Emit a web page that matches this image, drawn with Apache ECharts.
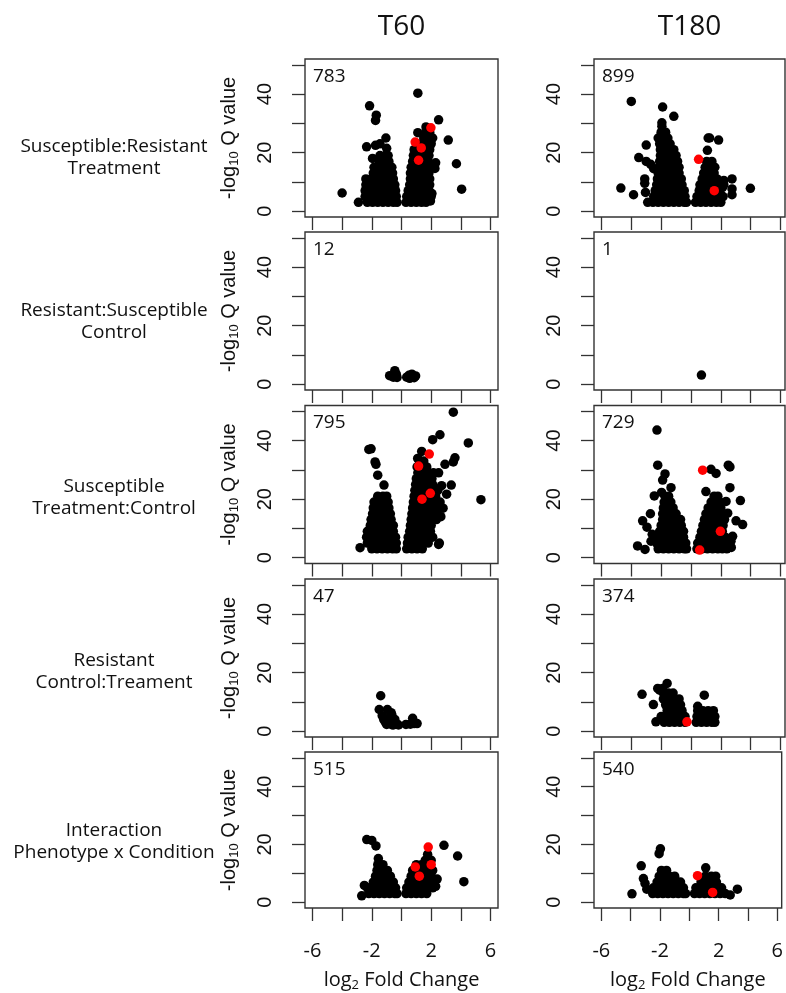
<!DOCTYPE html>
<html>
<head>
<meta charset="utf-8">
<script src="https://cdn.jsdelivr.net/npm/echarts@6/dist/echarts.min.js"></script>
<style>
  html, body { margin: 0; padding: 0; background: #fff; }
  #chart { width: 786px; height: 993px; }
</style>
</head>
<body>
<div id="chart"></div>
<script>
// axis ticks and labels
const xTicks = [-6, -4, -2, 0, 2, 4, 6];
const xTickLabels = [-6, -2, 2, 6];
const yTicks = [0, 10, 20, 30, 40, 50];
const yTickLabels = [0, 20, 40];

const columnTitles = ["T60", "T180"];
const rowLabels = [
  "Susceptible:Resistant\nTreatment",
  "Resistant:Susceptible\nControl",
  "Susceptible\nTreatment:Control",
  "Resistant\nControl:Treament",
  "Interaction\nPhenotype x Condition"
];
// number of DE genes per panel [T60, T180]
const deCounts = [[783, 899], [12, 1], [795, 729], [47, 374], [515, 540]];

// [log2 fold change, -log10 Q] (dense clouds approximated)
const t60SusResTrt = [
  [-4,6.2],[-2.9,3],[-2.15,36],[-1.7,32.8],[-1.75,31],[-1.05,25],[-2.35,22],[-1.75,22.5],[-1.45,23],[-1.0,21.5],[-1.95,18],
  [1.1,40.3],[2.5,31.2],[3.15,24.3],[3.7,16.2],[4.05,7.5],[2.3,16.5],[2.25,14.6],[1.1,26.8],[1.65,28.8],[2.05,6],[1.95,3.5],
  [-2.3,3],[-1.95,3],[-1.6,3],[-1.25,3],[-0.9,3],[-0.55,3],[-0.3,3],
  [-2.45,5],[-2.1,5],[-1.75,5],[-1.4,5],[-1.05,5],[-0.7,5],[-0.35,5],
  [-2.45,7],[-2.1,7],[-1.75,7],[-1.4,7],[-1.05,7],[-0.7,7],[-0.4,7],
  [-2.4,9],[-2.05,9],[-1.7,9],[-1.35,9],[-1.0,9],[-0.65,9],[-0.45,9],
  [-2.4,11],[-2.05,11],[-1.7,11],[-1.35,11],[-1.0,11],[-0.65,11],[-0.55,11],
  [-1.9,13],[-1.55,13],[-1.2,13],[-0.85,13],[-0.6,13],
  [-1.85,15],[-1.5,15],[-1.15,15],[-0.8,15],[-0.65,15],
  [-1.5,17],[-1.15,17],[-0.85,17],
  [-1.45,19],[-1.1,19],[-0.9,19],
  [0.3,3],[0.65,3],[1.0,3],[1.35,3],[1.65,3],
  [0.35,5],[0.7,5],[1.05,5],[1.4,5],[1.75,5],[2.0,5],
  [0.45,7],[0.8,7],[1.15,7],[1.5,7],[1.85,7],
  [0.55,9],[0.9,9],[1.25,9],[1.6,9],[1.9,9],
  [0.6,11],[0.95,11],[1.3,11],[1.65,11],[1.9,11],
  [0.6,13],[0.95,13],[1.3,13],[1.65,13],[1.85,13],
  [0.65,15],[1.0,15],[1.35,15],[1.7,15],[1.85,15],
  [0.75,17],[1.1,17],[1.45,17],[1.8,17],
  [0.8,19],[1.15,19],[1.5,19],[1.85,19],
  [0.85,21],[1.2,21],[1.55,21],[1.9,21],
  [1.0,23],[1.35,23],[1.7,23],[2.0,23],
  [1.5,25],[1.85,25],[2.1,25],
  [1.65,27],[1.9,27]
];
const t60SusResTrtRed = [[1.98,28.5],[0.92,23.6],[1.33,21.6],[1.15,17.4]];

const t180SusResTrt = [
  [-4.0,37.5],[-4.7,7.9],[-3.85,5.6],[-1.9,35.6],[-1.15,32.4],[-1.95,30.2],[-3.0,22.6],[-3.5,18.3],[-3.0,17],[-3.1,11],
  [-3.1,9.5],[-3.05,6.4],[-2.7,16],[-2.5,14.5],[3.98,7.8],[2.75,11],[2.75,7.6],[2.75,5.6],[1.15,25],[1.25,25],[1.85,24.3],
  [1.1,20.8],[2.2,10.5],[2.1,8],
  [-2.9,3],[-2.55,3],[-2.2,3],[-1.85,3],[-1.5,3],[-1.15,3],[-0.8,3],[-0.45,3],[-0.3,3],
  [-2.5,5],[-2.15,5],[-1.8,5],[-1.45,5],[-1.1,5],[-0.75,5],[-0.4,5],
  [-2.4,7],[-2.05,7],[-1.7,7],[-1.35,7],[-1.0,7],[-0.65,7],[-0.45,7],
  [-2.3,9],[-1.95,9],[-1.6,9],[-1.25,9],[-0.9,9],[-0.6,9],
  [-2.25,11],[-1.9,11],[-1.55,11],[-1.2,11],[-0.85,11],[-0.65,11],
  [-2.2,13],[-1.85,13],[-1.5,13],[-1.15,13],[-0.8,13],
  [-2.15,15],[-1.8,15],[-1.45,15],[-1.1,15],[-0.8,15],
  [-2.1,17],[-1.75,17],[-1.4,17],[-1.05,17],[-0.9,17],
  [-2.05,19],[-1.7,19],[-1.35,19],[-1.0,19],
  [-2.05,21],[-1.7,21],[-1.35,21],[-1.15,21],
  [-2.1,23],[-1.75,23],[-1.4,23],
  [-2.2,25],[-1.85,25],[-1.55,25],
  [-2.0,27],[-1.7,27],
  [-1.95,29],
  [0.3,3],[0.65,3],[1.0,3],[1.35,3],[1.7,3],[2.0,3],
  [0.4,5],[0.75,5],[1.1,5],[1.45,5],[1.8,5],[2.15,5],
  [0.55,7],[0.9,7],[1.25,7],[1.6,7],[1.9,7],
  [0.6,9],[0.95,9],[1.3,9],[1.65,9],[2.2,9],
  [0.75,11],[1.1,11],[1.45,11],[1.75,11],
  [0.85,13],[1.2,13],[1.55,13],
  [0.95,15],[1.3,15],[1.6,15],
  [1.05,17],[1.4,17]
];
const t180SusResTrtRed = [[0.51,17.7],[1.56,7.0]];

const t60ResSusCtl = [
  [-0.45,4.6],[-0.8,2.9],[-0.55,2.4],[-0.3,2.3],[-0.5,3.3],[-0.35,3.4],
  [0.35,2.4],[0.55,2.0],[0.7,3.4],[0.95,2.8],[0.85,2.2],[0.5,3.0]
];
const t180ResSusCtl = [[0.7,3.1]];

const t60SusTrtCtl = [
  [3.49,49.7],[4.5,39.2],[5.35,19.8],[2.59,42],[2.1,40.3],[3.6,34.1],[3.49,32.7],[2.93,31.9],[3.35,24.8],[3.04,21.7],[2.7,24.6],
  [-2.2,37],[-2.05,37.2],[-1.78,32.7],[-1.72,31.9],[-1.6,28.2],[-1.18,24.8],[-2.79,3.4],[1.36,36.3],[1.09,33.9],[2.8,16.9],
  [2.65,14],[2.5,4.5],
  [-2.0,3],[-1.65,3],[-1.3,3],[-0.95,3],[-0.6,3],[-0.35,3],
  [-2.3,5],[-1.95,5],[-1.6,5],[-1.25,5],[-0.9,5],[-0.55,5],[-0.35,5],
  [-2.35,7],[-2.0,7],[-1.65,7],[-1.3,7],[-0.95,7],[-0.6,7],[-0.4,7],
  [-2.3,9],[-1.95,9],[-1.6,9],[-1.25,9],[-0.9,9],[-0.55,9],
  [-2.1,11],[-1.75,11],[-1.4,11],[-1.05,11],[-0.7,11],[-0.55,11],
  [-2.05,13],[-1.7,13],[-1.35,13],[-1.0,13],[-0.7,13],
  [-1.95,15],[-1.6,15],[-1.25,15],[-0.9,15],[-0.75,15],
  [-1.9,17],[-1.55,17],[-1.2,17],[-0.85,17],
  [-1.85,19],[-1.5,19],[-1.15,19],[-0.9,19],
  [-1.6,21],[-1.25,21],[-1.0,21],
  [0.35,3],[0.7,3],[1.05,3],[1.4,3],
  [0.4,5],[0.75,5],[1.1,5],[1.45,5],[1.8,5],[2.55,5],
  [0.45,7],[0.8,7],[1.15,7],[1.5,7],[1.85,7],[2.1,7],
  [0.55,9],[0.9,9],[1.25,9],[1.6,9],[1.95,9],
  [0.6,11],[0.95,11],[1.3,11],[1.65,11],[2.0,11],
  [0.65,13],[1.0,13],[1.35,13],[1.7,13],[2.05,13],[2.35,13],
  [0.7,15],[1.05,15],[1.4,15],[1.75,15],[2.1,15],[2.4,15],
  [0.75,17],[1.1,17],[1.45,17],[1.8,17],[2.15,17],[2.5,17],
  [0.8,19],[1.15,19],[1.5,19],[1.85,19],[2.2,19],[2.6,19],
  [0.85,21],[1.2,21],[1.55,21],[1.9,21],[2.3,21],
  [0.9,23],[1.25,23],[1.6,23],[2.0,23],[2.45,23],
  [0.95,25],[1.3,25],[1.65,25],[2.1,25],
  [1.0,27],[1.35,27],[1.7,27],[2.05,27],
  [1.1,29],[1.45,29],[1.8,29],[2.15,29],[2.5,29],
  [1.05,31],[1.4,31],[1.7,31],
  [1.2,33],[1.5,33]
];
const t60SusTrtCtlRed = [[1.87,35.4],[1.15,31.3],[1.94,22],[1.38,20]];

const t180SusTrtCtl = [
  [-2.28,43.6],[-2.23,31.6],[-1.74,28.6],[-1.9,26.5],[-1.34,23.9],[-2.46,21.1],[-1.97,22.3],[-3.24,12.6],[-2.95,10.4],
  [-2.72,15],[-3.58,4],[-3.08,2.8],[-2.68,5.6],[-2.6,8],[1.68,28.8],[1.34,30.2],[2.5,31.6],[2.61,31],[2.61,23.9],
  [3.31,19.5],[1.0,22.6],[3.02,12.6],[3.46,11.3],[2.79,7.3],[2.68,5.6],[2.35,19.2],[2.46,15.2],[2.7,3.5],
  [-2.2,3],[-1.85,3],[-1.5,3],[-1.15,3],[-0.8,3],[-0.45,3],[-0.3,3],
  [-2.3,5],[-1.95,5],[-1.6,5],[-1.25,5],[-0.9,5],[-0.55,5],[-0.35,5],
  [-2.2,7],[-1.85,7],[-1.5,7],[-1.15,7],[-0.8,7],[-0.5,7],
  [-2.1,9],[-1.75,9],[-1.4,9],[-1.05,9],[-0.7,9],[-0.5,9],
  [-2.0,11],[-1.65,11],[-1.3,11],[-0.95,11],[-0.65,11],
  [-1.9,13],[-1.55,13],[-1.2,13],[-0.85,13],[-0.7,13],
  [-1.9,15],[-1.55,15],[-1.2,15],[-1.0,15],
  [-1.85,17],[-1.5,17],[-1.2,17],
  [-1.8,19],[-1.45,19],[-1.35,19],
  [-1.75,21],[-1.5,21],
  [0.4,3],[0.75,3],[1.1,3],[1.45,3],[1.8,3],[2.1,3],[2.4,3],
  [0.45,5],[0.8,5],[1.15,5],[1.5,5],[1.85,5],[2.2,5],[2.5,5],
  [0.6,7],[0.95,7],[1.3,7],[1.65,7],[2.0,7],[2.3,7],
  [0.7,9],[1.05,9],[1.4,9],[1.75,9],[2.1,9],
  [0.8,11],[1.15,11],[1.5,11],[1.85,11],[2.15,11],
  [0.9,13],[1.25,13],[1.6,13],[1.95,13],[2.25,13],
  [1.0,15],[1.35,15],[1.7,15],[2.0,15],
  [1.15,17],[1.5,17],[1.85,17],[2.0,17],
  [1.35,19],[1.7,19],[1.95,19],
  [1.55,21],[1.8,21]
];
const t180SusTrtCtlRed = [[0.78,29.9],[1.97,9],[0.58,2.6]];

const t60ResCtlTrt = [
  [-1.4,12.1],[-1.5,7.4],[-0.95,7.4],[-1.3,5.3],[-0.65,5.6],[-0.85,4.5],[-1.1,3.2],[-0.8,3.0],[-0.5,3.0],[-0.3,2.4],
  [-1.0,2.3],[-0.65,2.2],[-0.45,4.0],[0.3,2.3],[0.6,2.4],[0.85,2.6],[0.75,4.4],[1.05,2.6],[-0.55,2.1],[-0.2,2.1],
  [-1.2,4.0],[-0.7,6.3]
];

const t180ResCtlTrt = [
  [-3.28,12.6],[-2.23,14.6],[-1.6,16.3],[0.89,12.3],[-2.52,9.1],[-2.35,3.2],[-1.9,14.6],
  [-1.8,3],[-1.45,3],[-1.1,3],[-0.75,3],[-0.4,3],
  [-2.0,5],[-1.7,5],[-1.35,5],[-1.0,5],[-0.65,5],[-0.4,5],
  [-1.6,7],[-1.25,7],[-0.9,7],[-0.6,7],
  [-1.7,9],[-1.35,9],[-1.0,9],[-0.7,9],
  [-1.85,11],[-1.5,11],[-1.15,11],[-0.8,11],
  [-1.85,13],[-1.5,13],[-1.2,13],
  [-2.1,14],
  [0.35,3],[0.7,3],[1.05,3],[1.4,3],[1.6,3],
  [0.4,5],[0.75,5],[1.1,5],[1.45,5],[1.6,5],
  [0.45,7],[0.8,7],[1.15,7],[1.5,7],
  [0.45,8.5]
];
const t180ResCtlTrtRed = [[-0.27,3.2]];

const t60Interaction = [
  [-2.34,21.7],[-2.0,21.4],[-1.72,19.5],[-1.56,15.1],[-2.68,2.2],[2.86,19.7],[3.78,16],[4.2,7.1],[1.76,16.6],[-2.5,5.8],
  [2.4,8],[2.3,5.5],
  [-2.2,3],[-1.85,3],[-1.5,3],[-1.15,3],[-0.8,3],[-0.45,3],[-0.3,3],
  [-2.3,5],[-1.95,5],[-1.6,5],[-1.25,5],[-0.9,5],[-0.55,5],[-0.4,5],
  [-1.9,7],[-1.55,7],[-1.2,7],[-0.85,7],[-0.55,7],
  [-1.75,9],[-1.4,9],[-1.05,9],[-0.75,9],
  [-1.65,11],[-1.3,11],[-0.95,11],
  [-1.6,13],[-1.25,13],
  [0.3,3],[0.65,3],[1.0,3],[1.35,3],[1.7,3],
  [0.35,5],[0.7,5],[1.05,5],[1.4,5],[1.75,5],[2.1,5],
  [0.5,7],[0.85,7],[1.2,7],[1.55,7],[1.9,7],[2.2,7],
  [0.65,9],[1.0,9],[1.35,9],[1.7,9],[2.0,9],
  [0.75,11],[1.1,11],[1.45,11],[1.8,11],[2.1,11],
  [1.0,13],[1.35,13],[1.7,13],
  [1.6,14.5],[2.0,14.5]
];
const t60InteractionRed = [[1.8,19.1],[0.93,12.2],[2.0,13],[1.2,9.0]];

const t180Interaction = [
  [-1.97,18.5],[-2.06,16.8],[-3.91,2.9],[-3.28,12.6],[-3.13,8.2],[-3.02,6.5],[1.12,11.9],[3.28,4.5],[2.79,2.5],[-2.9,4.5],
  [-2.5,3],[-2.15,3],[-1.8,3],[-1.45,3],[-1.1,3],[-0.75,3],[-0.4,3],[-0.25,3],
  [-2.45,5],[-2.1,5],[-1.75,5],[-1.4,5],[-1.05,5],[-0.7,5],[-0.4,5],
  [-2.2,7],[-1.85,7],[-1.5,7],[-1.15,7],[-0.8,7],[-0.6,7],
  [-2.05,9],[-1.7,9],[-1.35,9],[-1.0,9],
  [-1.9,11],[-1.55,11],
  [0.35,3],[0.7,3],[1.05,3],[1.4,3],[1.75,3],[2.1,3],[2.45,3],
  [0.45,5],[0.8,5],[1.15,5],[1.5,5],[1.85,5],[2.2,5],
  [0.8,7],[1.15,7],[1.5,7],[1.85,7],
  [1.1,9],[1.5,9],[1.8,9]
];
const t180InteractionRed = [[0.56,9.2],[1.59,3.4]];

// panels row by row: [T60, T180]
const panelBlack = [
  [t60SusResTrt, t180SusResTrt],
  [t60ResSusCtl, t180ResSusCtl],
  [t60SusTrtCtl, t180SusTrtCtl],
  [t60ResCtlTrt, t180ResCtlTrt],
  [t60Interaction, t180Interaction]
];
const panelRed = [
  [t60SusResTrtRed, t180SusResTrtRed],
  [[], []],
  [t60SusTrtCtlRed, t180SusTrtCtlRed],
  [[], t180ResCtlTrtRed],
  [t60InteractionRed, t180InteractionRed]
];

// layout
const colLeft = [305, 594];
const colWidth = [193, 191];
const colXMax = [6.5, 6.3];
const rowTop = [59, 232, 405.5, 579, 752];
const rowHeight = 158;
const rowLabelY = [157.5, 321.5, 497.5, 671.5, 841.5];

const sans = "Open Sans";
const arial = "Liberation Sans";
const ink = "#111";
const lineCol = "#333";
const dot = 9.5;

const chart = echarts.init(document.getElementById("chart"));

const grids = [], xAxes = [], yAxes = [], blackSeries = [], redSeries = [], graphics = [];

for (let r = 0; r < 5; r++) {
  for (let c = 0; c < 2; c++) {
    const i = grids.length;
    const last = r === 4;
    grids.push({
      left: colLeft[c], top: rowTop[r], width: colWidth[c], height: rowHeight,
      show: true, borderColor: lineCol, borderWidth: 1.4, backgroundColor: "#fff"
    });
    xAxes.push({
      gridIndex: i, type: "value", min: -6.5, max: colXMax[c], position: "bottom",
      axisLine: { show: false, onZero: false },
      splitLine: { show: false },
      axisTick: { show: true, customValues: xTicks, length: 13, lineStyle: { color: lineCol, width: 1.3 } },
      axisLabel: {
        show: last, customValues: xTickLabels, margin: 33,
        fontFamily: sans, fontSize: 20, color: ink
      },
      name: last ? "log{sub|2} Fold Change" : "",
      nameLocation: "middle", nameGap: 60,
      nameTextStyle: {
        fontFamily: sans, fontSize: 20, color: ink, lineHeight: 24,
        rich: { sub: { fontSize: 13, lineHeight: 13, verticalAlign: "bottom", fontFamily: sans, color: ink } }
      }
    });
    yAxes.push({
      gridIndex: i, type: "value", min: -2, max: 52, position: "left",
      axisLine: { show: false, onZero: false },
      splitLine: { show: false },
      axisTick: { show: true, customValues: yTicks, length: 13, lineStyle: { color: lineCol, width: 1.3 } },
      axisLabel: {
        customValues: yTickLabels, rotate: 90, margin: 30,
        fontFamily: arial, fontSize: 20, color: ink
      },
      name: c === 0 ? "-log{sub|10} Q value" : "",
      nameLocation: "middle", nameRotate: 90, nameGap: 64,
      nameTextStyle: {
        fontFamily: arial, fontSize: 20, color: ink, lineHeight: 24,
        rich: { sub: { fontSize: 13, lineHeight: 13, verticalAlign: "bottom", fontFamily: arial, color: ink } }
      }
    });
    blackSeries.push({
      type: "scatter", xAxisIndex: i, yAxisIndex: i,
      data: panelBlack[r][c], symbol: "circle", symbolSize: dot,
      itemStyle: { color: "#000", opacity: 1 }, silent: true
    });
    redSeries.push({
      type: "scatter", xAxisIndex: i, yAxisIndex: i,
      data: panelRed[r][c], symbol: "circle", symbolSize: dot,
      itemStyle: { color: "#ff0000", opacity: 1 }, silent: true
    });
    // DE count in the corner
    graphics.push({
      type: "text", left: colLeft[c] + 8, top: rowTop[r] + 8,
      style: { text: String(deCounts[r][c]), font: '19px "Open Sans"', fill: ink }
    });
  }
  graphics.push({
    type: "text", x: 114, y: rowLabelY[r],
    style: {
      text: rowLabels[r], font: '19px "Open Sans"', fill: ink,
      textAlign: "center", textVerticalAlign: "middle", lineHeight: 22
    }
  });
}

columnTitles.forEach((t, c) => {
  graphics.push({
    type: "text", x: colLeft[c] + colWidth[c] / 2, y: 27,
    style: { text: t, font: '28px "Open Sans"', fill: ink, textAlign: "center", textVerticalAlign: "middle" }
  });
});

chart.setOption({
  animation: false,
  backgroundColor: "#fff",
  grid: grids,
  xAxis: xAxes,
  yAxis: yAxes,
  series: blackSeries.concat(redSeries),
  graphic: graphics
});
</script>
</body>
</html>
